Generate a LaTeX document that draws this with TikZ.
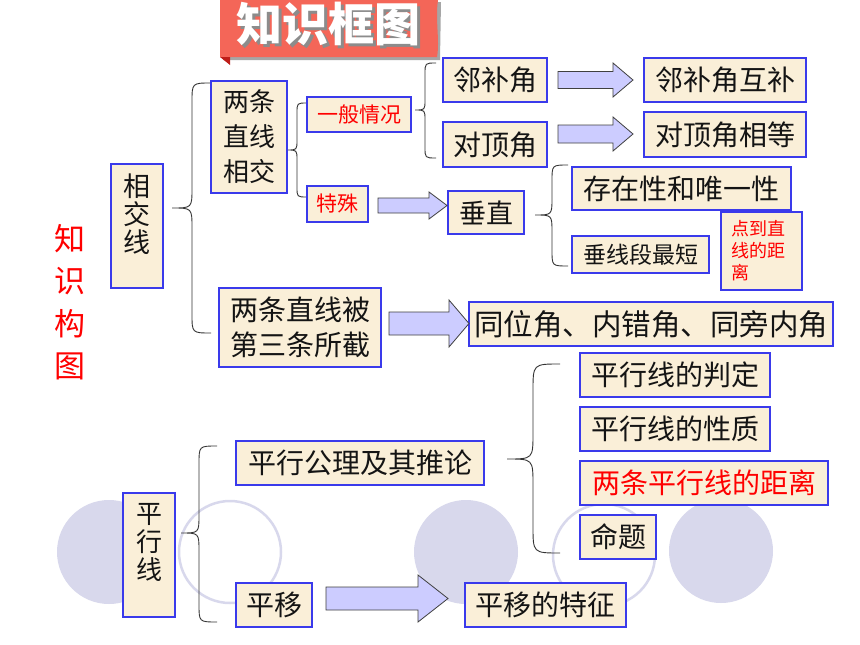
\documentclass[tikz,border=0pt]{standalone}
\usepackage{fontspec}
\newfontfamily\cjk{Noto Sans CJK SC}
\definecolor{parch}{RGB}{250,239,216}
\definecolor{bblue}{RGB}{58,58,235}
\definecolor{arrfill}{RGB}{204,204,255}
\definecolor{circfill}{RGB}{216,216,236}
\definecolor{banner}{RGB}{244,102,88}
\definecolor{bannerdark}{RGB}{190,30,25}
\definecolor{txt}{RGB}{20,20,20}
\newcommand\fsz[2]{\fontsize{#1}{#2}\selectfont}
% curly brace: #1 end x, #2 spine x, #3 tip x, #4 top y, #5 tip y, #6 bottom y
\newcommand\cbrace[6]{\draw[brc] (#1,#4) .. controls (#2,#4) .. (#2,{#4+#1-#2}) -- (#2,{#5-#2+#3}) .. controls (#2,#5) .. (#3,#5) .. controls (#2,#5) .. (#2,{#5+#2-#3}) -- (#2,{#6-#1+#2}) .. controls (#2,#6) .. (#1,#6);}
% block arrow: #1 start x, #2 head x, #3 tip x, #4 centre y, #5 shaft half, #6 head half
\newcommand\barrow[6]{\filldraw[arr] (#1,{#4-#5}) -- (#2,{#4-#5}) -- (#2,{#4-#6}) -- (#3,#4) -- (#2,{#4+#6}) -- (#2,{#4+#5}) -- (#1,{#4+#5}) -- cycle;}
\begin{document}
\begin{tikzpicture}[x=1pt,y=-1pt,
  bx/.style={draw=bblue, line width=1.3pt, fill=parch, inner sep=0pt, text=txt, align=center},
  arr/.style={fill=arrfill, draw=black!75, line width=0.8pt, line join=miter},
  brc/.style={draw=black!80, line width=0.9pt},
  circ/.style={fill=circfill},
  circo/.style={draw=circfill, line width=2.5pt},
  big/.style={font=\cjk\fsz{28}{34}},
  mid/.style={font=\cjk\fsz{21}{24}}]
\useasboundingbox (0,0) rectangle (860,645);
\fill[white] (0,0) rectangle (860,645);

% background circles
\fill[circ] (109,552) circle[radius=52];
\fill[circ] (466,552) circle[radius=52];
\fill[circ] (721,551) circle[radius=52];
\draw[circo] (230,552) circle[radius=51];
\draw[circo] (604,555) circle[radius=51];

% title banner
\fill[black!35] (223,2) -- (441,2) -- (440,60) -- (223,60) -- cycle;
\fill[banner] (220,0) -- (438,0) .. controls (435,20) and (440,40) .. (437,57) -- (220,57) -- cycle;
\fill[bannerdark] (220,57) -- (230,57) -- (230,65) -- cycle;
\node[font=\cjk\bfseries\fsz{46}{46}, text=black!45] at (331,27) {知识框图};
\node[font=\cjk\bfseries\fsz{46}{46}, text=white] (title) at (328,24) {知识框图};

% side label
\node[font=\cjk\fsz{31}{42.5}, text=red, align=center] (side) at (70,302) {知\\识\\构\\图};

% braces
\cbrace{211}{192}{172}{83}{208}{333}
\cbrace{307}{297}{287}{103}{150}{197}
\cbrace{436}{425}{415}{63}{110}{158}
\cbrace{568}{552}{535}{165}{215}{266}
\cbrace{217}{199}{181}{446}{533}{622}
\cbrace{560}{533}{507}{364}{459}{553}

% boxes: intersecting lines
\node[bx, minimum width=52, minimum height=124] (xjx) at (137,226) {};
\node[font=\cjk\fsz{27}{28}, text=txt, align=center] (xjxt) at (137,214) {相\\交\\线};
\node[bx, minimum width=76, minimum height=112, font=\cjk\fsz{26}{35}] (lxxj) at (249,137) {两条\\直线\\相交};
\node[bx, mid, text=red, minimum width=104, minimum height=35] (ybqk) at (359,114.5) {一般情况};
\node[bx, mid, text=red, minimum width=61, minimum height=36] (ts) at (337.5,204) {特殊};
\node[bx, big, minimum width=104, minimum height=44] (lbj) at (495,80) {邻补角};
\node[bx, big, minimum width=104, minimum height=45] (ddj) at (495,144.5) {对顶角};
\node[bx, big, minimum width=162, minimum height=44] (lbjhb) at (725,80) {邻补角互补};
\node[bx, big, minimum width=162, minimum height=45] (ddjxd) at (725,134.5) {对顶角相等};
\node[bx, font=\cjk\fsz{27}{30}, minimum width=76, minimum height=43] (cz) at (486,212.5) {垂直};
\node[bx, big, minimum width=219, minimum height=43] (czwy) at (681.5,188.5) {存在性和唯一性};
\node[bx, font=\cjk\fsz{23}{26}, minimum width=137, minimum height=37] (cxd) at (640.5,254.5) {垂线段最短};
\node[bx, font=\cjk\fsz{18}{22}, text=red, align=left, text width=60, minimum width=81, minimum height=78] (djl) at (761.5,251) {点到直\\线的距\\离};
\node[bx, font=\cjk\fsz{28}{35}, minimum width=162, minimum height=79] (bjd) at (300,327.5) {两条直线被\\第三条所截};
\node[bx, font=\cjk\fsz{29.5}{32}, minimum width=364, minimum height=44] (tw) at (651,324) {同位角、内错角、同旁内角};

% boxes: parallel lines
\node[bx, minimum width=52, minimum height=124] (pxx) at (149,555) {};
\node[font=\cjk\fsz{26}{28}, text=txt, align=center] (pxxt) at (149,542) {平\\行\\线};
\node[bx, big, minimum width=248, minimum height=44] (pxgl) at (360,463) {平行公理及其推论};
\node[bx, big, minimum width=76, minimum height=44] (py) at (274,605) {平移};
\node[bx, big, minimum width=161, minimum height=44] (pytz) at (545.5,605) {平移的特征};
\node[bx, big, minimum width=190, minimum height=44] (pd) at (675,375) {平行线的判定};
\node[bx, big, minimum width=190, minimum height=44] (xz) at (675,429) {平行线的性质};
\node[bx, big, text=red, minimum width=248, minimum height=44] (jl) at (704,483) {两条平行线的距离};
\node[bx, big, minimum width=76, minimum height=44] (mt) at (618,537) {命题};

% block arrows
\barrow{558}{613}{633}{80}{8.5}{17}
\barrow{558}{613}{633}{134}{9}{17}
\barrow{378}{429}{447}{205.5}{7.5}{13.5}
\barrow{389}{449}{469}{323.5}{11.5}{23.5}
\barrow{326}{418}{448}{598.5}{11.5}{23.5}
\end{tikzpicture}
\end{document}
